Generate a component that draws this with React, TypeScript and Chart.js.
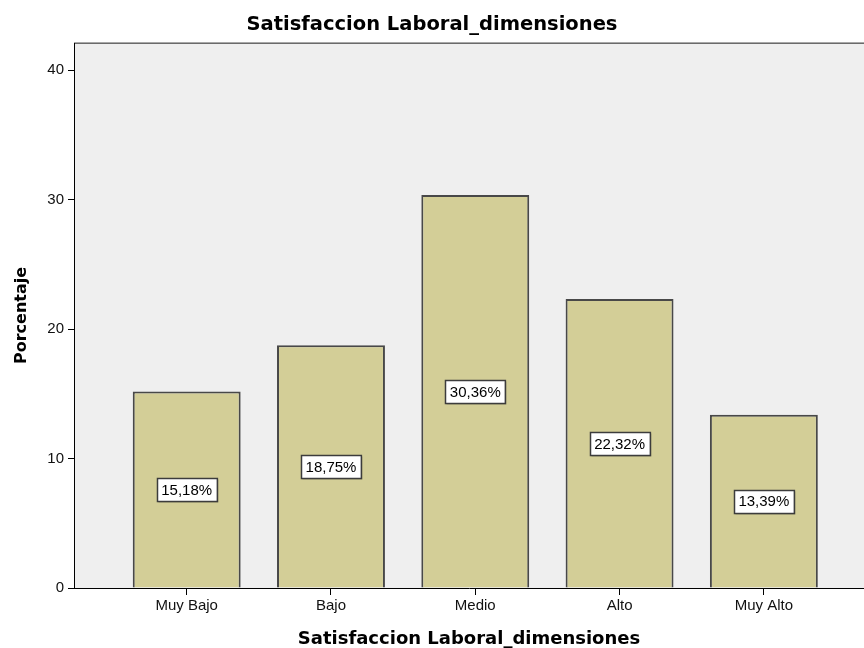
import React, { useEffect, useRef } from "react";
import { Chart, registerables } from "chart.js";

Chart.register(...registerables);

// Survey result: share of respondents per job-satisfaction level
const categories = ["Muy Bajo", "Bajo", "Medio", "Alto", "Muy Alto"];
const percentages = [15.18, 18.75, 30.36, 22.32, 13.39];
const yTicks = [0, 10, 20, 30, 40];

const chartTitle = "Satisfaccion Laboral_dimensiones";
const xTitle = "Satisfaccion Laboral_dimensiones";
const yTitle = "Porcentaje";

const formatPct = (v: number) => v.toFixed(2).replace(".", ",") + "%";

const BAR_FILL = "#d3ce97";
const BAR_EDGE = "#484848";
const PLOT_BG = "#efefef";

// Gray plot background plus the double rule along the top edge
const plotFrame = {
  id: "plotFrame",
  beforeDraw(chart: any) {
    const { ctx, chartArea } = chart;
    const { left, top, right, bottom } = chartArea;
    ctx.save();
    ctx.fillStyle = PLOT_BG;
    ctx.fillRect(left, top, right - left, bottom - top);
    ctx.lineWidth = 1;
    ctx.strokeStyle = "#a8a8a8";
    ctx.beginPath();
    ctx.moveTo(left, top - 0.5);
    ctx.lineTo(right, top - 0.5);
    ctx.stroke();
    ctx.strokeStyle = "#6a6a6a";
    ctx.beginPath();
    ctx.moveTo(left, top + 0.5);
    ctx.lineTo(right, top + 0.5);
    ctx.stroke();
    ctx.restore();
  },
};

// Boxed percentage label at half the height of each bar
const valueBoxes = {
  id: "valueBoxes",
  afterDatasetsDraw(chart: any) {
    const { ctx } = chart;
    const yScale = chart.scales.y;
    const meta = chart.getDatasetMeta(0);
    ctx.save();
    ctx.font = "15px 'Liberation Sans', Arial, sans-serif";
    ctx.textAlign = "center";
    ctx.textBaseline = "middle";
    meta.data.forEach((bar: any, i: number) => {
      const v = percentages[i];
      const text = formatPct(v);
      const cx = bar.x;
      const cy = yScale.getPixelForValue(v / 2);
      const w = ctx.measureText(text).width + 9;
      const h = 23;
      const x0 = Math.round(cx - w / 2) + 0.5;
      const y0 = Math.round(cy - h / 2) + 0.5;
      ctx.fillStyle = "rgba(0,0,0,0.25)";
      ctx.fillRect(x0 + 1, y0 + 1, w, h);
      ctx.fillStyle = "#ffffff";
      ctx.fillRect(x0, y0, w, h);
      ctx.lineWidth = 1.5;
      ctx.strokeStyle = "#3c3c3c";
      ctx.strokeRect(x0, y0, w, h);
      ctx.fillStyle = "#000000";
      ctx.fillText(text, cx, cy + 1);
    });
    ctx.restore();
  },
};

export default function App() {
  const canvasRef = useRef<HTMLCanvasElement | null>(null);

  useEffect(() => {
    const canvas = canvasRef.current;
    if (!canvas) return;

    const chart = new Chart(canvas, {
      type: "bar",
      data: {
        datasets: [
          {
            label: yTitle,
            data: percentages.map((v, i) => ({ x: i, y: v })),
            backgroundColor: BAR_FILL,
            borderColor: BAR_EDGE,
            borderWidth: 2,
            categoryPercentage: 1,
            barPercentage: 0.748,
          },
        ],
      },
      options: {
        responsive: false,
        animation: false,
        layout: { padding: 0 },
        plugins: {
          legend: { display: false },
          tooltip: { enabled: false },
          title: {
            display: true,
            text: chartTitle,
            color: "#000",
            font: { family: "'DejaVu Sans', sans-serif", size: 19.5, weight: "bold", lineHeight: 1 },
            padding: { top: 15, bottom: 8.5 },
          },
        },
        scales: {
          x: {
            type: "linear",
            offset: false,
            min: -0.781,
            max: 4.694,
            afterBuildTicks: (scale: any) => {
              scale.ticks = categories.map((_, i) => ({ value: i }));
            },
            afterFit: (scale: any) => {
              scale.height = 60;
            },
            ticks: {
              callback: (value: any) => categories[Math.round(Number(value))] ?? "",
              color: "#111",
              font: { family: "'Liberation Sans', Arial, sans-serif", size: 15 },
              padding: 2,
              maxRotation: 0,
              autoSkip: false,
            },
            grid: {
              offset: false,
              drawOnChartArea: false,
              drawTicks: true,
              tickLength: 7,
              color: "#000",
              lineWidth: 1,
            },
            border: { display: true, color: "#000", width: 1 },
            title: {
              display: true,
              text: xTitle,
              color: "#000",
              font: { family: "'DejaVu Sans', sans-serif", size: 18, weight: "bold", lineHeight: 1.2 },
              padding: { top: 0, bottom: -2 },
            },
          },
          y: {
            type: "linear",
            min: 0,
            max: 42.1,
            afterBuildTicks: (scale: any) => {
              scale.ticks = yTicks.map((v) => ({ value: v }));
            },
            afterFit: (scale: any) => {
              scale.width = 74;
            },
            ticks: {
              color: "#111",
              font: { family: "'Liberation Sans', Arial, sans-serif", size: 15 },
              padding: 4,
            },
            grid: {
              drawOnChartArea: false,
              drawTicks: true,
              tickLength: 6,
              color: "#000",
              lineWidth: 1,
            },
            border: { display: true, color: "#000", width: 1 },
            title: {
              display: true,
              text: yTitle,
              color: "#000",
              font: { family: "'DejaVu Sans', sans-serif", size: 16, weight: "bold", lineHeight: 1.2 },
              padding: { top: 12, bottom: 0 },
            },
          },
        },
      },
      plugins: [plotFrame, valueBoxes],
    } as any);

    return () => chart.destroy();
  }, []);

  return (
    <div style={{ position: "fixed", left: 0, top: 0, width: 864, height: 648, background: "#fff" }}>
      <canvas ref={canvasRef} width={864} height={648} style={{ display: "block" }} />
    </div>
  );
}
